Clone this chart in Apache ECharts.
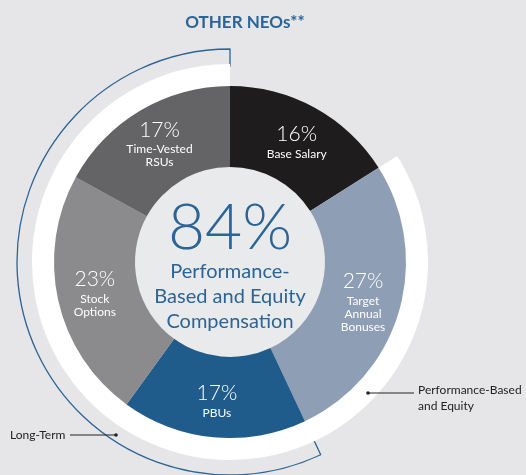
<!DOCTYPE html>
<html>
<head>
<meta charset="utf-8">
<script src="https://cdn.jsdelivr.net/npm/echarts@6/dist/echarts.min.js"></script>
<style>
  html, body { margin: 0; padding: 0; background: #e6e6e8; }
  #chart { width: 526px; height: 475px; }
</style>
</head>
<body>
<div id="chart"></div>
<script>
const categories = ['Base Salary', 'Target\nAnnual\nBonuses', 'PBUs', 'Stock\nOptions', 'Time-Vested\nRSUs']
const shares = [16, 27, 17, 23, 17]
const sliceColors = ['#1e1c1d', '#8e9eb5', '#1f5b8b', '#8b8b8d', '#646467']

// outer bands: performance-based & equity (white ring), long-term (blue bracket)
const perfBased = 84
const longTerm = 57

const FONT = 'Lato, "Open Sans", sans-serif'
const BLUE = '#2b6496'
const C = [230, 262]

const chart = echarts.init(document.getElementById('chart'), null, { renderer: 'canvas' })

chart.setOption({
  backgroundColor: '#e6e6e8',
  animation: false,
  title: {
    text: 'OTHER NEOs**',
    left: 240,
    top: 9,
    textAlign: 'center',
    textStyle: { color: BLUE, fontFamily: FONT, fontSize: 17, fontWeight: 'bold' },
  },
  graphic: [
    { type: 'circle', shape: { cx: C[0], cy: C[1], r: 95 }, style: { fill: '#e9eaec' }, z: 1 },
    {
      type: 'text', style: {
        x: C[0], y: 228, text: '84%', fill: BLUE, font: '300 64px ' + FONT,
        textAlign: 'center', textVerticalAlign: 'middle',
      }, z: 10,
    },
    {
      type: 'text', style: {
        x: C[0], y: 297, text: 'Performance-\nBased and Equity\nCompensation', fill: BLUE,
        font: '20px ' + FONT, lineHeight: 25, textAlign: 'center', textVerticalAlign: 'middle',
      }, z: 10,
    },
    // annotation leaders
    { type: 'line', shape: { x1: 368, y1: 393, x2: 414, y2: 393 }, style: { stroke: '#222', lineWidth: 1 }, z: 10 },
    { type: 'circle', shape: { cx: 368, cy: 393, r: 1.8 }, style: { fill: '#222' }, z: 10 },
    {
      type: 'text', style: {
        x: 418, y: 398, text: 'Performance-Based\nand Equity', fill: '#222',
        font: '12px ' + FONT, lineHeight: 16, textVerticalAlign: 'middle',
      }, z: 10,
    },
    { type: 'line', shape: { x1: 70, y1: 435, x2: 116, y2: 435 }, style: { stroke: '#222', lineWidth: 1 }, z: 10 },
    { type: 'circle', shape: { cx: 116, cy: 435, r: 1.8 }, style: { fill: '#222' }, z: 10 },
    {
      type: 'text', style: {
        x: 10, y: 435, text: 'Long-Term', fill: '#222', font: '12px ' + FONT, textVerticalAlign: 'middle',
      }, z: 10,
    },
  ],
  series: [
    {
      type: 'pie',
      center: C,
      radius: [95, 176],
      startAngle: 90,
      clockwise: true,
      silent: true,
      z: 3,
      label: {
        position: 'inside',
        formatter: (p) => `{v|${p.value}%}\n{n|${p.name}}`,
        rich: {
          v: { color: '#fff', fontFamily: FONT, fontSize: 21, fontWeight: 300, lineHeight: 26 },
          n: { color: '#fff', fontFamily: FONT, fontSize: 12, lineHeight: 13 },
        },
      },
      labelLine: { show: false },
      data: categories.map((name, i) => ({ name, value: shares[i], itemStyle: { color: sliceColors[i] } })),
    },
    {
      type: 'pie',
      center: C,
      radius: [196, 213],
      startAngle: 90,
      clockwise: true,
      silent: true,
      z: 2,
      label: { show: false },
      labelLine: { show: false },
      data: [
        { value: 100 - longTerm, itemStyle: { color: 'transparent', borderWidth: 0 } },
        { value: longTerm, itemStyle: { color: 'transparent', borderColor: BLUE, borderWidth: 1.3 } },
      ],
    },
    {
      type: 'pie',
      center: C,
      radius: [175, 198],
      startAngle: 90,
      clockwise: true,
      silent: true,
      z: 2.5,
      label: { show: false },
      labelLine: { show: false },
      data: [
        { value: 100 - perfBased, itemStyle: { color: 'transparent' } },
        { value: perfBased, itemStyle: { color: '#ffffff' } },
      ],
    },
  ],
})
</script>
</body>
</html>
